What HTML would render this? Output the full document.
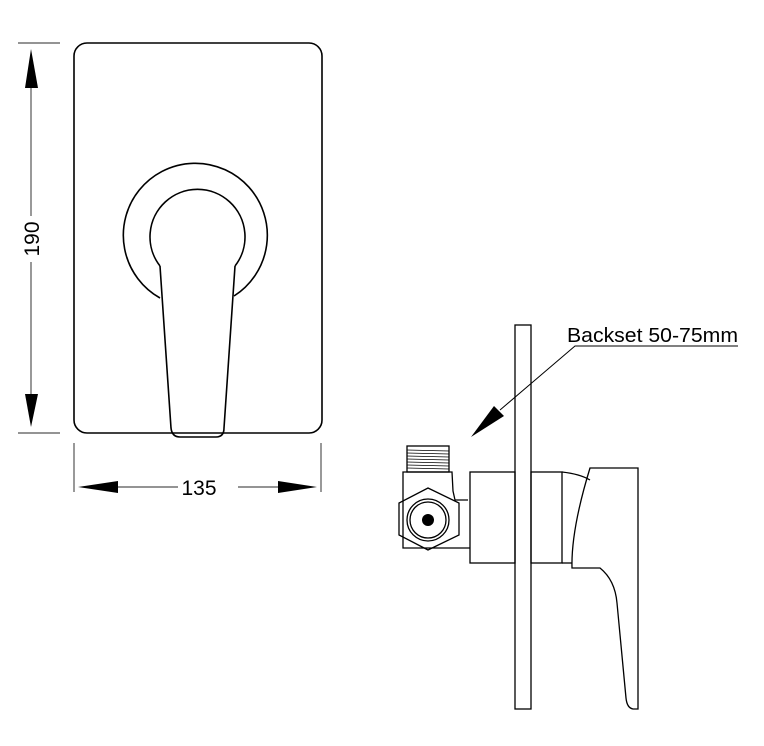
<!DOCTYPE html>
<html><head><style>body{margin:0;background:#fff}svg{display:block}</style></head><body>
<svg width="764" height="746" viewBox="0 0 764 746" xmlns="http://www.w3.org/2000/svg" font-family="Liberation Sans, sans-serif">
<g fill="none" stroke="#000" stroke-width="1.6">
<rect x="74" y="43" width="248" height="390" rx="13"/>
<path d="M160,266 A47.5,47.5 0 1 1 235,266"/>
<path d="M160,298 A72,72 0 1 1 234,296"/>
<path d="M160,266 L171,428 Q172,437 180,437 L216,437 Q224,437 224,428 L235,266"/>
</g>
<g stroke="#555" stroke-width="1.2" fill="none">
<line x1="18" y1="43" x2="60" y2="43"/>
<line x1="18" y1="433" x2="60" y2="433"/>
<line x1="31" y1="88" x2="31" y2="216"/>
<line x1="31" y1="262" x2="31" y2="394"/>
<line x1="74" y1="443" x2="74" y2="492"/>
<line x1="321" y1="443" x2="321" y2="492"/>
<line x1="118" y1="487" x2="178" y2="487"/>
<line x1="238" y1="487" x2="280" y2="487"/>
</g>
<g fill="#000">
<polygon points="31,49 25,88 38,88"/>
<polygon points="31,427 25,394 38,394"/>
<polygon points="78,487 118,481 118,493"/>
<polygon points="317,487 278,481 278,493"/>
</g>
<text x="199" y="495" font-size="21" text-anchor="middle">135</text>
<text transform="translate(39,239) rotate(-90)" font-size="21" text-anchor="middle">190</text>
<g fill="none" stroke="#000" stroke-width="1.3">
<rect x="515" y="325" width="16" height="384"/>
<rect x="470" y="472" width="45" height="91"/>
<rect x="531" y="472" width="31" height="91"/>
<path d="M562,472 Q580,474 590,480"/>
<path d="M590,468 L638,468 L638,709 L633,709 Q627,708 626,698 L617,603 Q615,580 600,568 L572,568 Q571,530 590,468 Z"/>
<line x1="562" y1="563" x2="572" y2="563"/>
<path d="M468,500 L455,500 L453,491 L452,472 L403,472 L403,548 L470,548"/>
<rect x="407" y="446" width="42" height="26"/>
<polygon points="428,488 459,503 459,535 428,550 399,535 399,503"/>
<circle cx="428" cy="520" r="21"/>
<circle cx="428" cy="520" r="18"/>
</g>
<g stroke="#000" stroke-width="0.8">
<line x1="407" y1="450" x2="449" y2="451"/><line x1="407" y1="453" x2="449" y2="454"/>
<line x1="407" y1="456" x2="449" y2="457"/><line x1="407" y1="459" x2="449" y2="460"/>
<line x1="407" y1="462" x2="449" y2="463"/><line x1="407" y1="465" x2="449" y2="466"/>
<line x1="407" y1="468" x2="449" y2="469"/>
</g>
<circle cx="428" cy="520" r="6" fill="#000"/>
<polyline points="738,346 575,346 500,410" stroke="#000" stroke-width="1" fill="none"/>
<polygon points="471,437 494,406 504,416" fill="#000"/>
<text x="567" y="342" font-size="20" textLength="171" lengthAdjust="spacingAndGlyphs">Backset 50-75mm</text>
</svg>
</body></html>
